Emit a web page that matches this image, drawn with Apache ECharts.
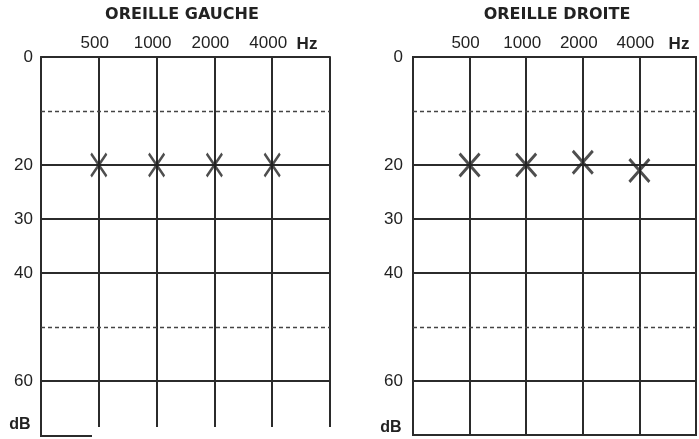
<!DOCTYPE html>
<html>
<head>
<meta charset="utf-8">
<script src="https://cdn.jsdelivr.net/npm/echarts@6/dist/echarts.min.js"></script>
<style>
  html, body { margin: 0; padding: 0; background: #fff; }
  #chart { width: 699px; height: 439px; }
</style>
</head>
<body>
<div id="chart"></div>
<script>
// Audiogram grid: frequency columns and hearing levels
const freqLabels = ['500', '1000', '2000', '4000'];
const freqPositions = [1, 2, 3, 4];
const dbTickLabels = [0, 20, 30, 40, 60];
const solidLevels = [20, 30, 40, 60];
const dashedLevels = [10, 50];

// Measured thresholds (dB) per ear
const leftEarDb = [20, 20, 20, 20];
const rightEarDb = [20, 20, 19.5, 21];

const INK = '#2b2b2b';
const crossPath = 'path://M0,0.9 L0.9,0 L5,4.1 L9.1,0 L10,0.9 L5.9,5 L10,9.1 L9.1,10 L5,5.9 L0.9,10 L0,9.1 L4.1,5 Z';

function xAxisFor(gridIndex) {
  return {
    gridIndex, type: 'value', min: 0, max: 5, interval: 1, position: 'top',
    axisLine: { show: true, lineStyle: { color: INK, width: 2 } },
    axisTick: { show: false },
    splitLine: { show: true, lineStyle: { color: INK, width: 2 } },
    axisLabel: {
      margin: 5, fontSize: 17, color: '#222', fontFamily: 'Liberation Sans',
      padding: [0, 8, 0, 0],
      formatter: v => { const i = freqPositions.indexOf(v); return i >= 0 ? freqLabels[i] : ''; }
    }
  };
}

function yAxisFor(gridIndex, max, margin) {
  return {
    gridIndex, type: 'value', inverse: true, min: 0, max, interval: 10,
    axisLine: { show: true, lineStyle: { color: INK, width: 2 } },
    axisTick: { show: false },
    splitLine: { show: false },
    axisLabel: {
      margin, fontSize: 17, color: '#222', fontFamily: 'Liberation Sans',
      formatter: v => dbTickLabels.includes(v) ? String(v) : ''
    }
  };
}

function levelLines() {
  return solidLevels.map(v => ({ yAxis: v, lineStyle: { type: 'solid', width: 2, color: INK } }))
    .concat(dashedLevels.map(v => ({ yAxis: v, lineStyle: { type: [4, 3], width: 1.3, color: '#444' } })));
}

function earSeries(idx, values, size) {
  return {
    type: 'scatter', xAxisIndex: idx, yAxisIndex: idx,
    symbol: crossPath, symbolSize: size,
    itemStyle: { color: '#222' },
    data: freqPositions.map((x, i) => [x, values[i]]),
    z: 5,
    markLine: {
      silent: true, symbol: 'none', label: { show: false },
      animation: false, data: levelLines()
    }
  };
}

function label(text, x, y, opts) {
  return {
    type: 'text', x, y,
    style: Object.assign({
      text, fill: '#222', font: 'bold 16px "Liberation Sans"',
      textAlign: 'center', textVerticalAlign: 'middle'
    }, opts || {})
  };
}

const chart = echarts.init(document.getElementById('chart'), null, { renderer: 'canvas' });
chart.setOption({
  animation: false,
  backgroundColor: '#fff',
  grid: [
    { left: 41, top: 57, width: 289, height: 370 },
    { left: 413, top: 57, width: 287, height: 378, show: true, borderColor: INK, borderWidth: 2 }
  ],
  xAxis: [xAxisFor(0), xAxisFor(1)],
  yAxis: [yAxisFor(0, 68.5, 8), yAxisFor(1, 70, 10)],
  series: [earSeries(0, leftEarDb, [17, 25]), earSeries(1, rightEarDb, [22, 25])],
  graphic: [
    label('AUDIOMÉTRIE TONALE', 375, -5, { fill: '#9a9a9a', font: 'bold 15px "DejaVu Sans"' }),
    label('OREILLE GAUCHE', 182, 15, { font: 'bold 16px "DejaVu Sans"' }),
    label('OREILLE DROITE', 557, 15, { font: 'bold 16px "DejaVu Sans"' }),
    label('Hz', 307, 44, { font: 'bold 17px "Liberation Sans"' }),
    label('Hz', 679, 44, { font: 'bold 17px "Liberation Sans"' }),
    label('dB', 20, 425, { font: 'bold 16px "Liberation Sans"' }),
    label('dB', 391, 428, { font: 'bold 16px "Liberation Sans"' }),
    { type: 'line', shape: { x1: 41, y1: 426, x2: 41, y2: 437 }, style: { stroke: INK, lineWidth: 2 } },
    { type: 'line', shape: { x1: 40, y1: 436, x2: 92, y2: 436 }, style: { stroke: INK, lineWidth: 2 } }
  ]
});
</script>
</body>
</html>
